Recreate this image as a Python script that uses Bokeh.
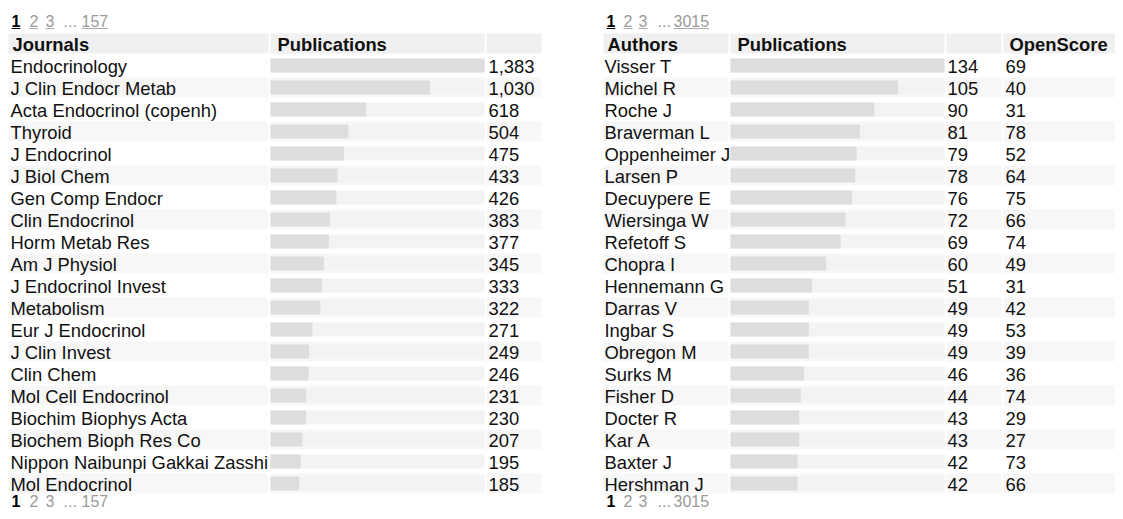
from bokeh.plotting import figure
from bokeh.models import Range1d, ColumnDataSource
from bokeh.core.properties import value
from bokeh.embed import file_html
from bokeh.resources import INLINE

# ---------------- data ----------------
journals = ["Endocrinology", "J Clin Endocr Metab", "Acta Endocrinol (copenh)", "Thyroid",
            "J Endocrinol", "J Biol Chem", "Gen Comp Endocr", "Clin Endocrinol",
            "Horm Metab Res", "Am J Physiol", "J Endocrinol Invest", "Metabolism",
            "Eur J Endocrinol", "J Clin Invest", "Clin Chem", "Mol Cell Endocrinol",
            "Biochim Biophys Acta", "Biochem Bioph Res Co", "Nippon Naibunpi Gakkai Zasshi",
            "Mol Endocrinol"]
journal_pubs = [1383, 1030, 618, 504, 475, 433, 426, 383, 377, 345, 333, 322, 271, 249,
                246, 231, 230, 207, 195, 185]

authors = ["Visser T", "Michel R", "Roche J", "Braverman L", "Oppenheimer J", "Larsen P",
           "Decuypere E", "Wiersinga W", "Refetoff S", "Chopra I", "Hennemann G", "Darras V",
           "Ingbar S", "Obregon M", "Surks M", "Fisher D", "Docter R", "Kar A", "Baxter J",
           "Hershman J"]
author_pubs = [134, 105, 90, 81, 79, 78, 76, 72, 69, 60, 51, 49, 49, 49, 46, 44, 43, 43, 42, 42]
open_scores = [69, 40, 31, 78, 52, 64, 75, 66, 74, 49, 31, 42, 53, 39, 36, 74, 29, 27, 73, 66]

journal_headers = ["Journals", "Publications", ""]
author_headers = ["Authors", "Publications", "", "OpenScore"]
journal_pages = ["1", "2", "3", "...", "157"]
author_pages = ["1", "2", "3", "...", "3015"]

# ---------------- styling / layout ----------------
FONT = value("Liberation Sans")
FS = "18.4px"
PFS = 16
TEXT = "#111111"
GRAY_TXT = "#9a9a9a"
HEAD_BG = "#f0f0f0"
STRIPE_BG = "#f7f7f7"
TRACK = "#f3f3f3"
BAR = "#dddddd"

W, H = 1115, 511
p = figure(width=W, height=H, output_backend="svg", toolbar_location=None,
           x_range=Range1d(0, W), y_range=Range1d(H, 0),
           x_axis_location=None, y_axis_location=None, min_border=0,
           outline_line_color=None, background_fill_color="white",
           border_fill_color="white")
p.grid.visible = False

HEAD_TOP, HEAD_BOT = 33, 53
ROW0, PITCH, CELL_H, BAR_H = 55.0, 22.0, 20.0, 14.0
PAGE_TOP_Y, PAGE_BOT_Y = 20.5, 500.5


def row_top(i):
    return ROW0 + PITCH * i


def draw_pages(items, xs, y, underline):
    for k, (t, x) in enumerate(zip(items, xs)):
        bold = k == 0
        col = "#000000" if bold else GRAY_TXT
        p.text(x=[x], y=[y], text=[t], text_font=FONT, text_font_size=f"{PFS}px",
               text_font_style="bold" if bold else "normal", text_color=col,
               text_baseline="middle", text_align="left")
        if underline and t != "...":
            wdt = len(t) * 0.556 * PFS
            p.segment(x0=[x], y0=[y + 7.5], x1=[x + wdt], y1=[y + 7.5],
                      line_color="#000000" if bold else "#aaaaaa", line_width=1)


def draw_table(names, pubs, extra, cols, headers, rname, header_x, text_x):
    n = len(names)
    # header cells
    p.quad(left=[c[0] for c in cols], right=[c[1] for c in cols],
           top=[HEAD_TOP] * len(cols), bottom=[HEAD_BOT] * len(cols),
           fill_color=HEAD_BG, line_color=None)
    for hx, ht in zip(header_x, headers):
        if ht:
            p.text(x=[hx], y=[HEAD_TOP + 10.5], text=[ht], text_font=FONT, text_font_size=FS,
                   text_font_style="bold", text_color=TEXT, text_baseline="middle")
    # stripes
    L, R, T, B = [], [], [], []
    for i in range(n):
        if i % 2 == 1:
            for c in cols:
                L.append(c[0]); R.append(c[1]); T.append(row_top(i)); B.append(row_top(i) + CELL_H)
    p.quad(left=L, right=R, top=T, bottom=B, fill_color=STRIPE_BG, line_color=None)
    # bar scale through an extra range
    bx0, bx1 = cols[1]
    vmax = max(pubs)
    k = vmax / (bx1 - bx0)
    p.extra_x_ranges[rname] = Range1d(start=(0 - bx0) * k, end=(W - bx0) * k)
    centers = [row_top(i) + CELL_H / 2 for i in range(n)]
    src = ColumnDataSource(dict(y=centers, v=pubs, zero=[0] * n, vmax=[vmax] * n,
                                name=names, lab=[f"{v:,}" for v in pubs],
                                ty=[c + 0.5 for c in centers]))
    p.hbar(y="y", left="zero", right="vmax", height=BAR_H, source=src,
           x_range_name=rname, fill_color=TRACK, line_color=None)
    p.hbar(y="y", left="zero", right="v", height=BAR_H, source=src,
           x_range_name=rname, fill_color=BAR, line_color=None)
    p.text(x=text_x[0], y="ty", text="name", source=src, text_font=FONT, text_font_size=FS,
           text_color=TEXT, text_baseline="middle")
    p.text(x=text_x[1], y="ty", text="lab", source=src, text_font=FONT, text_font_size=FS,
           text_color=TEXT, text_baseline="middle")
    if extra is not None:
        src2 = ColumnDataSource(dict(ty=[c + 0.5 for c in centers], s=[str(s) for s in extra]))
        p.text(x=text_x[2], y="ty", text="s", source=src2, text_font=FONT, text_font_size=FS,
               text_color=TEXT, text_baseline="middle")


draw_table(journals, journal_pubs, None,
           [(8, 268), (270, 484), (486, 541)], journal_headers, "jbar",
           [12, 277, 0], [10, 488])
draw_table(authors, author_pubs, open_scores,
           [(603, 728), (730, 944), (946, 1001), (1003, 1121)], author_headers, "abar",
           [607, 737, 0, 1009], [604, 947, 1005])

draw_pages(journal_pages, [11, 29, 45, 63, 81], PAGE_TOP_Y, True)
draw_pages(author_pages, [606, 623, 638, 657, 673], PAGE_TOP_Y, True)
draw_pages(journal_pages, [11, 29, 45, 63, 81], PAGE_BOT_Y, False)
draw_pages(author_pages, [606, 623, 638, 657, 673], PAGE_BOT_Y, False)

open("out.html", "w").write(file_html(p, INLINE))
